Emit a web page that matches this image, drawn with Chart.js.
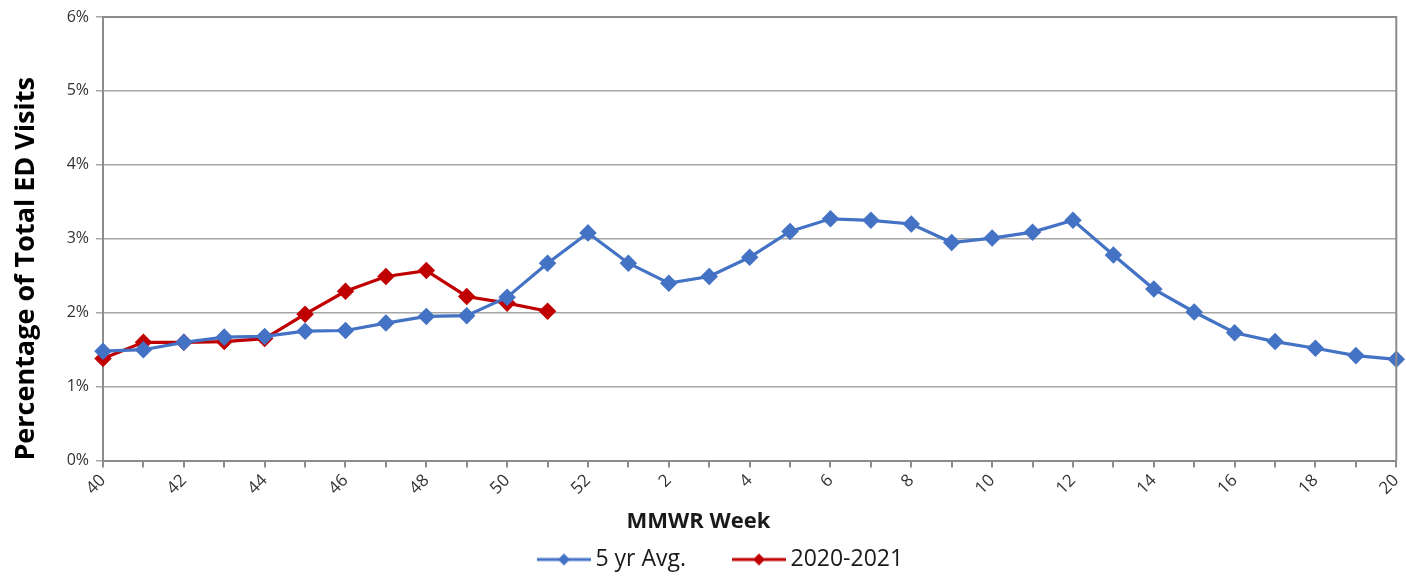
<!DOCTYPE html>
<html>
<head>
<meta charset="utf-8">
<script src="https://cdn.jsdelivr.net/npm/chart.js@4"></script>
<style>
  html, body { margin: 0; padding: 0; background: #fff; }
  #wrap { width: 1406px; height: 581px; }
</style>
</head>
<body>
<div id="wrap"><canvas id="edChart"></canvas></div>
<script>
// MMWR weeks 40-52 then 1-20
const weeks = ['40','41','42','43','44','45','46','47','48','49','50','51','52',
  '1','2','3','4','5','6','7','8','9','10','11','12','13','14','15','16','17','18','19','20'];
const fiveYrAvg = [1.48, 1.50, 1.60, 1.67, 1.68, 1.75, 1.76, 1.86, 1.95, 1.96, 2.21, 2.67, 3.08,
  2.67, 2.40, 2.49, 2.75, 3.10, 3.27, 3.25, 3.20, 2.95, 3.01, 3.09, 3.25, 2.78, 2.32, 2.01,
  1.73, 1.61, 1.52, 1.42, 1.37];
const season2021 = [1.38, 1.60, 1.60, 1.61, 1.65, 1.98, 2.29, 2.49, 2.57, 2.22, 2.13, 2.02];
const yTicks = [0, 1, 2, 3, 4, 5, 6];

const blue = '#4472C4';
const red = '#C00000';
const font = "'Open Sans', 'Liberation Sans', sans-serif";

// legend swatch: line with a diamond, blank lead on the left for item spacing
const SW_LINE = 54, SW_LEAD = 36;
function swatch(color) {
    const c = document.createElement('canvas');
    c.width = SW_LEAD + SW_LINE + 14; c.height = 14;
    const g = c.getContext('2d');
    const x0 = c.width - SW_LINE;
    g.strokeStyle = color; g.lineWidth = 3;
    g.beginPath(); g.moveTo(x0, 7); g.lineTo(c.width, 7); g.stroke();
    g.fillStyle = color;
    const cx = x0 + SW_LINE / 2;
    g.beginPath(); g.moveTo(cx, 1); g.lineTo(cx + 6, 7); g.lineTo(cx, 13); g.lineTo(cx - 6, 7); g.closePath(); g.fill();
    return c;
}

const frame = {
    id: 'frame',
    afterDatasetsDraw(chart) {
        const { ctx, chartArea: a } = chart;
        ctx.save();
        ctx.strokeStyle = '#8c8c8c';
        ctx.lineWidth = 2;
        ctx.beginPath();
        ctx.moveTo(a.left, a.top); ctx.lineTo(a.right, a.top); ctx.lineTo(a.right, a.bottom);
        ctx.stroke();
        ctx.restore();
    }
};

const ctx = document.getElementById('edChart').getContext('2d');
new Chart(ctx, {
    type: 'line',
    data: {
        labels: weeks,
        datasets: [{
            label: '5 yr Avg.',
            data: fiveYrAvg,
            borderColor: blue,
            backgroundColor: blue,
            borderWidth: 3.2,
            pointStyle: 'rectRot',
            pointRadius: 6.5,
            pointHoverRadius: 6.5,
            tension: 0
        }, {
            label: '2020-2021',
            data: season2021,
            borderColor: red,
            backgroundColor: red,
            borderWidth: 3.2,
            pointStyle: 'rectRot',
            pointRadius: 6.5,
            pointHoverRadius: 6.5,
            tension: 0
        }]
    },
    options: {
        responsive: true,
        maintainAspectRatio: false,
        animation: false,
        layout: { padding: { left: 0, right: 9, top: 17, bottom: 0 } },
        scales: {
            x: {
                offset: false,
                afterFit: axis => { axis.height = 46; axis.paddingRight = 0; axis.paddingLeft = 0; },
                grid: { display: true, drawOnChartArea: false, drawTicks: true, tickLength: 7, color: '#8c8c8c', lineWidth: 2 },
                border: { color: '#8c8c8c', width: 2 },
                ticks: {
                    autoSkip: false,
                    maxRotation: 45, minRotation: 45,
                    color: '#333',
                    font: { family: font, size: 17 },
                    callback: (v, i) => (i % 2 === 0 ? weeks[i] : '')
                }
            },
            y: {
                min: 0, max: 6,
                afterFit: axis => { axis.width = 103; axis.paddingTop = 0; axis.paddingBottom = 0; },
                afterBuildTicks: axis => { axis.ticks = yTicks.map(v => ({ value: v })); },
                grid: { color: '#a6a6a6', lineWidth: 1.5, tickLength: 7 },
                border: { color: '#8c8c8c', width: 2 },
                ticks: {
                    color: '#333',
                    font: { family: font, size: 16 },
                    padding: 7,
                    callback: v => v + '%'
                },
                title: {
                    display: true, text: 'Percentage of Total ED Visits', color: '#000',
                    align: 'start',
                    font: { family: font, size: 27, weight: 'bold' }, padding: { top: 10, bottom: 4 }
                }
            }
        },
        plugins: {
            title: {
                display: true, text: 'MMWR Week', color: '#1a1a1a',
                position: 'bottom', weight: 500,
                font: { family: font, size: 22, weight: 'bold' },
                padding: { top: 2, bottom: 10 }
            },
            legend: {
                position: 'bottom',
                labels: {
                    usePointStyle: true,
                    pointStyleWidth: SW_LEAD + SW_LINE,
                    color: '#1a1a1a',
                    font: { family: font, size: 23 },
                    padding: 3,
                    generateLabels: chart => chart.data.datasets.map((d, i) => ({
                        text: d.label,
                        pointStyle: swatch(d.borderColor),
                        fontColor: '#1a1a1a',
                        lineWidth: 0,
                        datasetIndex: i
                    }))
                }
            },
            tooltip: { enabled: false }
        }
    },
    plugins: [frame]
});
</script>
</body>
</html>
